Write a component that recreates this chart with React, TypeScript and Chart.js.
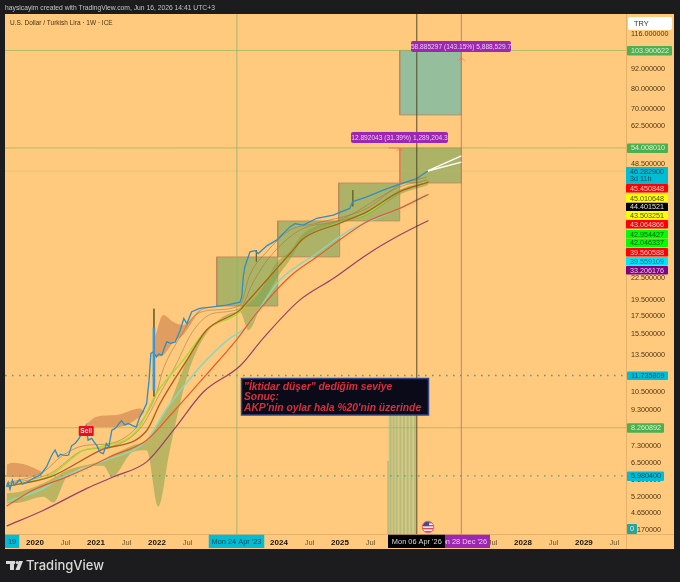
import React, { useEffect, useRef } from "react";
import { Chart, registerables } from "chart.js";

Chart.register(...registerables);

// ---------- axis contents ----------
const priceTicks = [116, 92, 80, 70, 62.5, 48.5, 22.5, 19.5, 17.5, 15.5, 13.5, 10.5, 9.3, 7.3, 6.5, 5.8, 5.2, 4.65, 4.17];
const yearTicks = [2020, 2020.5, 2021, 2021.5, 2022, 2022.5, 2023, 2023.5, 2024, 2024.5, 2025, 2025.5, 2026, 2026.5, 2027, 2027.5, 2028, 2028.5, 2029, 2029.5];

// ---------- price ----------
const priceYears = [2019.535, 2019.56, 2019.59, 2019.63, 2019.66, 2019.7, 2019.75, 2019.79, 2019.84, 2019.92, 2020.0, 2020.06, 2020.11, 2020.19, 2020.25, 2020.29, 2020.33, 2020.38, 2020.42, 2020.46, 2020.52, 2020.55, 2020.6, 2020.66, 2020.71, 2020.77, 2020.8, 2020.84, 2020.87, 2020.93, 2020.97, 2021.01, 2021.07, 2021.12, 2021.15, 2021.17, 2021.21, 2021.26, 2021.3, 2021.34, 2021.38, 2021.42, 2021.47, 2021.53, 2021.6, 2021.66, 2021.72, 2021.78, 2021.83, 2021.87, 2021.9, 2021.94, 2021.99, 2022.03, 2022.08, 2022.12, 2022.16, 2022.23, 2022.3, 2022.38, 2022.44, 2022.49, 2022.57, 2022.7, 2022.92, 2023.14, 2023.36, 2023.39, 2023.415, 2023.44, 2023.525, 2023.61, 2023.66, 2023.8, 2023.96, 2024.18, 2024.26, 2024.4, 2024.62, 2024.89, 2025.16, 2025.21, 2025.44, 2025.71, 2025.98, 2026.26, 2026.44];
const priceValues = [5.56, 5.72, 5.46, 5.81, 5.62, 5.71, 5.84, 5.66, 5.71, 5.81, 5.92, 5.98, 6.08, 6.36, 6.72, 6.95, 7.11, 6.8, 6.92, 6.88, 6.86, 6.88, 7.32, 7.45, 7.64, 7.95, 8.1, 8.41, 7.6, 7.69, 7.5, 7.35, 7.0, 6.94, 7.2, 7.43, 7.27, 8.13, 8.2, 8.31, 8.52, 8.66, 8.42, 8.5, 8.38, 8.31, 8.89, 9.3, 9.72, 11.37, 13.6, 13.75, 13.3, 13.55, 13.45, 14.1, 14.7, 14.55, 14.7, 15.9, 17.2, 16.6, 18.0, 18.4, 18.6, 18.8, 19.2, 19.9, 22.8, 24.3, 26.9, 27.1, 26.6, 28.0, 29.1, 31.8, 32.5, 32.2, 33.7, 34.4, 36.0, 37.7, 38.9, 40.7, 42.4, 44.0, 46.28];

const wickYears = [2019.63, 2019.63, null, 2020.33, 2020.33, null, 2021.21, 2021.21, null, 2021.95, 2021.95, null, 2023.63, 2023.63, null, 2025.21, 2025.21];
const wickValues = [6.25, 5.81, null, 7.2, 6.9, null, 8.41, 7.3, null, 18.36, 10.2, null, 27.2, 25.2, null, 40.7, 36.5];
const spikeYears = [2021.95, 2021.95];
const spikeValues = [16.2, 10.6];

// ---------- moving averages ----------
const purpleYears = [2019.535, 2020.14, 2020.85, 2021.28, 2021.83, 2022.27, 2022.76, 2023.36, 2023.74, 2024.34, 2024.89, 2025.44, 2025.98, 2026.45];
const purpleValues = [4.27, 4.75, 5.5, 5.94, 6.57, 8.13, 10.5, 12.5, 15.05, 19.45, 22.5, 26.4, 30.1, 33.2];
const redYears = [2019.535, 2019.97, 2020.52, 2020.9, 2021.23, 2021.83, 2022.27, 2022.81, 2023.31, 2023.63, 2024.18, 2024.62, 2025.44, 2025.98, 2026.45];
const redValues = [4.88, 5.44, 5.94, 6.36, 6.8, 7.6, 9.2, 11.8, 14.95, 17.8, 22.8, 26.0, 32.9, 36.0, 39.56];
const tealYears = [2019.535, 2020.08, 2020.46, 2021.17, 2021.83, 2022.16, 2022.7, 2023.17, 2023.44, 2024.02, 2024.62, 2025.16, 2025.6, 2025.98, 2026.42];
const tealValues = [5.03, 5.44, 5.94, 6.65, 7.6, 9.4, 12.4, 14.95, 16.1, 22.3, 26.6, 31.1, 33.7, 36.0, 39.56];
const brownYears = [2019.535, 2020.25, 2021.07, 2021.83, 2022.05, 2022.49, 2022.81, 2023.36, 2023.5, 2024.18, 2024.4, 2025.0, 2025.44, 2025.98, 2026.45];
const brownValues = [5.58, 5.94, 7.1, 8.1, 9.72, 13.0, 15.9, 18.2, 19.4, 26.6, 29.4, 32.6, 35.2, 40.3, 42.95];
const limeYears = [2019.535, 2020.25, 2020.79, 2021.07, 2021.67, 2021.99, 2022.43, 2022.81, 2023.36, 2023.5, 2024.15, 2024.4, 2024.97, 2025.44, 2025.98, 2026.42];
const limeValues = [5.56, 6.0, 7.1, 7.27, 8.1, 10.4, 13.0, 15.9, 18.0, 19.4, 26.3, 29.4, 32.6, 34.8, 40.3, 43.06];
const thinAYears = [2019.535, 2020.14, 2020.46, 2020.85, 2021.23, 2021.72, 2021.99, 2022.1, 2022.38, 2022.6, 2022.92, 2023.36, 2023.52, 2023.8, 2024.18, 2024.62, 2025.44, 2025.98, 2026.42];
const thinAValues = [5.69, 6.15, 6.88, 7.35, 7.43, 8.5, 10.4, 12.2, 15.2, 17.4, 18.2, 18.8, 23.0, 26.9, 31.1, 32.6, 36.0, 42.1, 44.4];
const thinBYears = [2019.535, 2020.25, 2020.79, 2021.23, 2021.72, 2022.05, 2022.27, 2022.6, 2022.92, 2023.36, 2023.58, 2023.85, 2024.34, 2025.0, 2025.98, 2026.42];
const thinBValues = [5.66, 6.08, 7.1, 7.27, 8.2, 10.4, 12.2, 15.9, 17.8, 18.4, 22.0, 26.0, 31.1, 33.3, 41.6, 43.5];

// ---------- cloud bands ----------
const greenYears = [2019.535, 2019.75, 2020.14, 2020.3, 2020.52, 2021.12, 2021.26, 2021.61, 2021.83, 2022.02, 2022.21, 2022.49, 2022.81, 2023.36, 2023.5, 2023.69, 2023.96, 2024.18, 2024.4, 2025.0, 2025.44, 2025.98, 2026.45];
const greenUpper = [5.32, 5.38, 5.69, 5.9, 6.2, 6.65, 6.88, 7.35, 7.6, 8.5, 9.72, 13.0, 15.9, 18.2, 19.0, 20.6, 25.0, 27.0, 30.4, 33.3, 35.2, 40.8, 43.5];
const greenLower = [4.97, 5.0, 5.2, 5.0, 5.94, 6.4, 5.94, 7.03, 7.1, 4.86, 7.1, 11.6, 15.55, 18.0, 15.9, 18.4, 22.5, 25.5, 29.4, 32.6, 34.4, 39.5, 42.1];
const orangeAYears = [2019.535, 2019.64, 2019.86, 2020.11];
const orangeAUpper = [6.46, 6.53, 6.43, 6.15];
const orangeALower = [5.94, 5.94, 5.94, 6.08];
const orangeBYears = [2020.85, 2021.01, 2021.34, 2021.72, 2021.8];
const orangeBUpper = [8.5, 8.9, 9.0, 9.4, 9.2];
const orangeBLower = [8.3, 8.3, 8.3, 8.9, 9.2];
const orangeCYears = [2021.97, 2022.1, 2022.27, 2022.43, 2022.7, 2022.92];
const orangeCUpper = [15.2, 17.6, 16.8, 16.45, 18.2, 18.6];
const orangeCLower = [13.3, 13.45, 14.7, 15.4, 18.0, 18.6];

// ---------- projections, boxes, levels ----------
const forecastYears = [2026.44, 2026.99];
const forecastHigh = [46.28, 51.2];
const forecastLow = [46.28, 49.1];
const boxYearsA = [2022.98, 2023.98];
const boxRangeA = [18.7, 26.0];
const boxYearsB = [2023.98, 2024.995];
const boxRangeB = [26.0, 33.1];
const boxYearsC = [2024.98, 2025.98];
const boxRangeC = [33.1, 42.7];
const boxYearsD = [2025.98, 2026.99];
const boxRangeD = [42.7, 54.008];
const boxYearsE = [2025.98, 2026.99];
const boxRangeE = [67.4, 103.9];
const solidLevels = [103.900622, 54.00801, 8.260892];
const faintLevels = [46.2829];
const dottedLevels = [11.735809, 5.9804];
const dateLines = [2023.31, 2026.26, 2026.99];
const measureYears = [2025.8, 2025.98, 2025.98];
const measureValues = [54.008, 54.008, 42.7];
const stripeYears = [2025.79, 2025.83, 2025.88, 2025.93, 2025.99, 2026.05, 2026.11, 2026.17, 2026.23];
const stripeTops = [6.6, 9.6, 9.6, 9.6, 9.6, 9.6, 9.6, 9.6, 9.6];

// ---------- text ----------
const headerText = "haysicayim created with TradingView.com, Jun 16, 2026 14:41 UTC+3";
const symbolText = "U.S. Dollar / Turkish Lira · 1W · ICE";
const measureTextTop = "58.885297 (143.15%) 5,888,529.7";
const measureTextLow = "12.892043 (31.39%) 1,289,204.3";
const noteLines = ['"İktidar düşer" dediğim seviye', "Sonuç:", "AKP'nin oylar hala %20'nin üzerinde"];
const stackedTags = ["45.450848", "45.010648", "44.401521", "43.503251", "43.064866", "42.954427", "42.046337", "39.560588", "39.559109", "33.206176"];

const XMIN = 2019.508;
const XMAX = 2029.69;
const YMIN = 4.05;
const YMAX = 132.7;
const BG = "#ffca7e";
const DARK = "#1c1c1e";
const SANS = '"Liberation Sans", Arial, sans-serif';

const zip = (xs: (number | null)[], ys: (number | null)[]) => xs.map((x, i) => ({ x, y: ys[i] }));

const thin = (data: any[], color: string, width = 1, extra: any = {}) => ({
  type: "line",
  data,
  borderColor: color,
  borderWidth: width,
  pointRadius: 0,
  tension: 0,
  fill: false,
  spanGaps: false,
  ...extra,
});

const smooth = { cubicInterpolationMode: "monotone" };

const band = (years: number[], up: number[], low: number[], color: string) => [
  thin(zip(years, up), "rgba(0,0,0,0)", 0, { fill: "+1", backgroundColor: color, ...smooth }),
  thin(zip(years, low), "rgba(0,0,0,0)", 0, smooth),
];

const box = (years: number[], range: number[], fillColor: string) =>
  thin(
    [
      { x: years[0], y: range[0] },
      { x: years[1], y: range[0] },
      { x: years[1], y: range[1] },
      { x: years[0], y: range[1] },
      { x: years[0], y: range[0] },
    ],
    "rgba(190,130,90,0.75)",
    1,
    { fill: "shape", backgroundColor: fillColor }
  );

const pill = (ctx: CanvasRenderingContext2D, x: number, y: number, w: number, h: number, r: number, c: string) => {
  ctx.fillStyle = c;
  ctx.beginPath();
  ctx.roundRect(x, y, w, h, r);
  ctx.fill();
};

const tag = (ctx: CanvasRenderingContext2D, text: string, x: number, y: number, w: number, h: number, bg: string, fg: string) => {
  pill(ctx, x, y, w, h, 1, bg);
  ctx.fillStyle = fg;
  ctx.textAlign = "left";
  ctx.textBaseline = "middle";
  ctx.font = `7.2px ${SANS}`;
  ctx.fillText(text, x + 4, y + h / 2 + 0.3);
};

const framePlugin = {
  id: "frame",
  beforeDraw(chart: any) {
    const { ctx, width, height, chartArea: a } = chart;
    ctx.save();
    ctx.fillStyle = DARK;
    ctx.fillRect(0, 0, width, height);
    ctx.fillStyle = BG;
    ctx.fillRect(a.left, a.top, 674 - a.left, 549 - a.top);
    ctx.strokeStyle = "rgba(225,170,100,0.8)";
    ctx.lineWidth = 1;
    ctx.beginPath();
    ctx.moveTo(a.left, a.bottom + 0.5);
    ctx.lineTo(674, a.bottom + 0.5);
    ctx.moveTo(a.right + 0.5, a.top);
    ctx.lineTo(a.right + 0.5, 549);
    ctx.stroke();
    ctx.restore();
  },
};

const overlayPlugin = {
  id: "overlay",
  afterDraw(chart: any) {
    const { ctx } = chart;
    const xs = chart.scales.x;
    const ys = chart.scales.y;
    ctx.save();
    // header and symbol line
    ctx.textBaseline = "middle";
    ctx.textAlign = "left";
    ctx.fillStyle = "#c4c4c4";
    ctx.font = `6.75px ${SANS}`;
    ctx.fillText(headerText, 5, 8.5);
    ctx.fillStyle = "#4a3512";
    ctx.font = `6.5px ${SANS}`;
    ctx.fillText(symbolText, 10, 23);

    // measure labels
    pill(ctx, 411, 41, 100, 11, 2, "#9c27b0");
    pill(ctx, 351, 132, 97, 11, 2, "#9c27b0");
    ctx.fillStyle = "#ecc8f2";
    ctx.textAlign = "center";
    ctx.font = `6.6px ${SANS}`;
    ctx.fillText(measureTextTop, 461, 46.8);
    ctx.fillText(measureTextLow, 399.5, 137.8);

    // sell flag
    const sx = xs.getPixelForValue(2020.84);
    pill(ctx, sx - 7.5, 426, 15, 10, 1, "#e8101c");
    ctx.fillStyle = "#ffd9d9";
    ctx.font = `bold 6.6px ${SANS}`;
    ctx.fillText("Sell", sx, 431.5);

    // note
    ctx.fillStyle = "#0a0a18";
    ctx.fillRect(241.5, 378.5, 187, 36.5);
    ctx.strokeStyle = "#33458c";
    ctx.lineWidth = 1.5;
    ctx.strokeRect(241.5, 378.5, 187, 36.5);
    ctx.fillStyle = "#d8303c";
    ctx.textAlign = "left";
    ctx.font = `italic bold 10.3px ${SANS}`;
    noteLines.forEach((t, i) => ctx.fillText(t, 244, 386.8 + i * 10.7));

    // flag
    const fx = 428;
    const fy = 527;
    ctx.save();
    ctx.beginPath();
    ctx.arc(fx, fy, 5.5, 0, Math.PI * 2);
    ctx.clip();
    ctx.fillStyle = "#f6f0ee";
    ctx.fillRect(fx - 6, fy - 6, 12, 12);
    ctx.fillStyle = "#e0475a";
    for (let i = -5; i < 6; i += 3) ctx.fillRect(fx - 6, fy + i, 12, 1.4);
    ctx.fillStyle = "#34509c";
    ctx.fillRect(fx - 6, fy - 6, 7, 5);
    ctx.restore();
    ctx.strokeStyle = "#e8606a";
    ctx.lineWidth = 1;
    ctx.beginPath();
    ctx.arc(fx, fy, 5.8, 0, Math.PI * 2);
    ctx.stroke();

    // arrow heads
    ctx.strokeStyle = "#ef6a50";
    ctx.lineWidth = 0.8;
    [
      [xs.getPixelForValue(2026.99), ys.getPixelForValue(99)],
      [xs.getPixelForValue(2025.98), ys.getPixelForValue(54.008)],
    ].forEach(([ax, ay]) => {
      ctx.beginPath();
      ctx.moveTo(ax - 3, ay + 3);
      ctx.lineTo(ax, ay);
      ctx.lineTo(ax + 3, ay + 3);
      ctx.stroke();
    });

    // price scale tags
    pill(ctx, 628, 17, 44, 13, 2, "#ffffff");
    ctx.fillStyle = "#333333";
    ctx.textAlign = "left";
    ctx.font = `7.4px ${SANS}`;
    ctx.fillText("TRY", 634, 23.8);

    const level = (v: number) => ys.getPixelForValue(v);
    tag(ctx, "103.900622", 627, level(103.900622) - 4.5, 45, 9.5, "#4caf50", "#d8f0d0");
    tag(ctx, "54.008010", 627, level(54.00801) - 4.5, 41, 9.5, "#4caf50", "#d8f0d0");
    tag(ctx, "11.735809", 627, level(11.735809) - 4, 41, 8.5, "#00bcd4", "#0a4a5a");
    tag(ctx, "8.260892", 627, level(8.260892) - 4.5, 37, 9.5, "#4caf50", "#d8f0d0");
    tag(ctx, "5.980400", 627, level(5.9804) - 4.5, 37, 9.5, "#00bcd4", "#0a4a5a");

    pill(ctx, 626, 167, 42, 17, 0, "#00bcd4");
    ctx.fillStyle = "#0a4a5a";
    ctx.font = `7.2px ${SANS}`;
    ctx.fillText("46.282900", 630, 171.6);
    ctx.fillText("3d 11h", 630, 179.4);

    const stackBg = ["#ff0000", "#ffff00", "#000000", "#ffff00", "#ff0000", "#00ff00", "#00ff00", "#ff0000", "#00e5ff", "#800080"];
    const stackFg = ["#ffc8c8", "#4a4a00", "#e0e0e0", "#4a4a00", "#ffc8c8", "#065006", "#065006", "#ffc8c8", "#066070", "#eac8ea"];
    const stackY = [184, 194, 202.7, 211, 220, 230, 238.7, 248, 257, 266];
    stackedTags.forEach((t, i) => tag(ctx, t, 626, stackY[i], 42, 8.6, stackBg[i], stackFg[i]));

    pill(ctx, 627, 524, 10, 10, 1, "#26a69a");
    ctx.fillStyle = "#d8f0ec";
    ctx.textAlign = "center";
    ctx.fillText("0", 632, 529.3);

    // time axis tags
    const stripTop = chart.chartArea.bottom + 0.5;
    const dateTag = (text: string, cx: number, l: number, r: number, bg: string, fg: string) => {
      ctx.save();
      ctx.beginPath();
      ctx.rect(l, stripTop, r - l, 13.5);
      ctx.clip();
      ctx.fillStyle = bg;
      ctx.fillRect(l, stripTop, r - l, 13.5);
      ctx.fillStyle = fg;
      ctx.font = `7.4px ${SANS}`;
      ctx.textAlign = "center";
      ctx.fillText(text, cx, stripTop + 7.3);
      ctx.restore();
    };
    dateTag("19", 12, 5, 19.5, "#00bcd4", "#0a4a5a");
    dateTag("Mon 24 Apr '23", 236.5, 208.5, 264.5, "#00bcd4", "#0a4a5a");
    dateTag("Mon 28 Dec '26", xs.getPixelForValue(2026.99), 445, 490, "#9c27b0", "#ecc8f2");
    dateTag("Mon 06 Apr '26", xs.getPixelForValue(2026.26), 388, 445, "#000000", "#d8d8d8");

    // footer logo
    ctx.fillStyle = "#d8d8d8";
    ctx.fillRect(6, 561, 9, 3);
    ctx.fillRect(10, 561, 4, 9);
    ctx.beginPath();
    ctx.arc(17.2, 562.5, 1.6, 0, Math.PI * 2);
    ctx.fill();
    ctx.beginPath();
    ctx.moveTo(19, 561);
    ctx.lineTo(23, 561);
    ctx.lineTo(19.5, 570);
    ctx.lineTo(15.5, 570);
    ctx.closePath();
    ctx.fill();
    ctx.textAlign = "left";
    ctx.font = `500 13px Inter, Roboto, sans-serif`;
    ctx.fillText("TradingView", 26, 565.8);
    ctx.restore();
  },
};

export default function App() {
  const ref = useRef<HTMLCanvasElement>(null);

  useEffect(() => {
    const layers: any[] = [
      thin(zip([2025.79, 2026.25], [9.6, 9.6]), "rgba(0,0,0,0)", 0, { fill: "start", backgroundColor: "rgba(165,200,140,0.4)" }),
      {
        type: "bar",
        data: zip(stripeYears, stripeTops),
        backgroundColor: "rgba(130,170,115,0.4)",
        barThickness: 1.4,
      },
      box(boxYearsA, boxRangeA, "rgba(70,150,75,0.45)"),
      box(boxYearsB, boxRangeB, "rgba(70,150,75,0.45)"),
      box(boxYearsC, boxRangeC, "rgba(70,150,75,0.45)"),
      box(boxYearsD, boxRangeD, "rgba(70,150,75,0.45)"),
      box(boxYearsE, boxRangeE, "rgba(60,180,180,0.55)"),
      ...solidLevels.map((v) => thin(zip([XMIN, XMAX], [v, v]), "rgba(150,185,90,0.75)", 1)),
      ...faintLevels.map((v) => thin(zip([XMIN, 2029.69], [v, v]), "rgba(190,190,110,0.4)", 1)),
      ...dottedLevels.map((v) => thin(zip([XMIN, XMAX], [v, v]), "#3fa896", 1.4, { borderDash: [1.6, 5.4] })),
      thin(zip([dateLines[0], dateLines[0]], [YMIN, YMAX]), "rgba(140,180,100,0.8)", 1),
      thin(zip([dateLines[2], dateLines[2]], [YMIN, YMAX]), "rgba(190,110,130,0.85)", 1),
      thin(zip(measureYears, measureValues), "#ef7a5a", 1),
      ...band(greenYears, greenUpper, greenLower, "rgba(120,160,70,0.5)"),
      ...band(orangeAYears, orangeAUpper, orangeALower, "rgba(200,120,70,0.55)"),
      ...band(orangeBYears, orangeBUpper, orangeBLower, "rgba(200,120,70,0.55)"),
      ...band(orangeCYears, orangeCUpper, orangeCLower, "rgba(200,120,70,0.55)"),
      thin(zip(thinBYears, thinBValues), "rgba(150,110,60,0.7)", 0.7, smooth),
      thin(zip(thinAYears, thinAValues), "rgba(160,115,60,0.8)", 0.7, smooth),
      thin(zip(purpleYears, purpleValues), "#9a3f68", 1.2, smooth),
      thin(zip(tealYears, tealValues), "#86d8c0", 1.5, smooth),
      thin(zip(redYears, redValues), "#e85a2a", 1.2, smooth),
      thin(zip(limeYears, limeValues), "#a4dc30", 1.3, smooth),
      thin(zip(brownYears, brownValues), "#b0611c", 1.4, smooth),
      thin(zip(forecastYears, forecastHigh), "#ffffff", 1.4),
      thin(zip(forecastYears, forecastLow), "#ffffff", 1.4),
      thin(zip(wickYears, wickValues), "#6e6a35", 1),
      thin(zip(priceYears, priceValues), "#2f8fc0", 1.3),
      thin(zip(spikeYears, spikeValues), "#3a96d8", 2.6),
      thin(zip([dateLines[1], dateLines[1]], [YMIN, YMAX]), "rgba(70,60,30,0.9)", 1),
    ];
    const datasets = layers.map((d, i) => ({ ...d, order: -i }));

    const chart = new Chart(ref.current as HTMLCanvasElement, {
      type: "line",
      data: { datasets },
      options: {
        animation: false,
        responsive: false,
        parsing: false,
        normalized: false,
        layout: { padding: { left: 5, right: 6, top: 14, bottom: 33 } },
        plugins: { legend: { display: false }, tooltip: { enabled: false }, title: { display: false } },
        events: [],
        scales: {
          x: {
            type: "linear",
            min: XMIN,
            max: XMAX,
            offset: false,
            grid: { display: false, drawTicks: false },
            border: { display: false },
            afterBuildTicks: (s: any) => {
              s.ticks = yearTicks.map((value) => ({ value }));
            },
            afterFit: (s: any) => {
              s.height = 15;
            },
            ticks: {
              autoSkip: false,
              maxRotation: 0,
              padding: 4,
              color: (c: any) => (Number.isInteger(c.tick.value) ? "#1a1408" : "#6a5430"),
              font: (c: any) =>
                Number.isInteger(c.tick?.value)
                  ? { family: SANS, size: 8, weight: "bold" }
                  : { family: SANS, size: 7.5, weight: "normal" },
              callback: (v: any) => (Number.isInteger(v) ? String(v) : "Jul"),
            },
          },
          y: {
            type: "logarithmic",
            position: "right",
            min: YMIN,
            max: YMAX,
            grid: { display: false, drawTicks: false },
            border: { display: false },
            afterBuildTicks: (s: any) => {
              s.ticks = priceTicks.map((value) => ({ value }));
            },
            afterFit: (s: any) => {
              s.width = 48;
            },
            ticks: {
              autoSkip: false,
              padding: 5,
              crossAlign: "near",
              color: "#4a3512",
              font: { family: SANS, size: 7.2 },
              callback: (v: any) => Number(v).toFixed(6),
            },
          },
        },
      } as any,
      plugins: [framePlugin, overlayPlugin],
    } as any);

    return () => chart.destroy();
  }, []);

  return (
    <div style={{ position: "fixed", left: 0, top: 0, width: 680, height: 582, background: DARK }}>
      <canvas ref={ref} width={680} height={582} style={{ display: "block", width: 680, height: 582 }} />
    </div>
  );
}
